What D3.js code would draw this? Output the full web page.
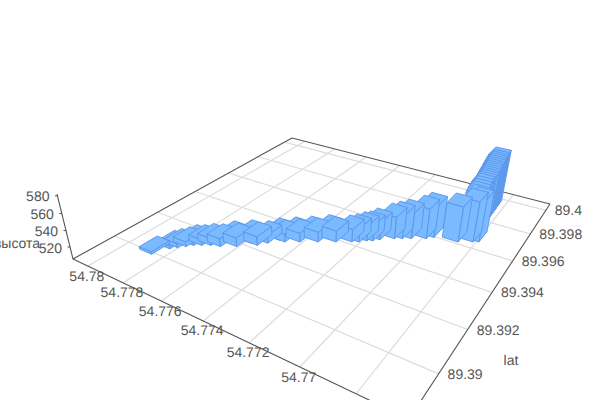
<!DOCTYPE html>
<html><head><meta charset="utf-8">
<script src="https://cdn.jsdelivr.net/npm/d3@7"></script>
<style>html,body{margin:0;padding:0;background:#fff;overflow:hidden}svg{display:block}text{font-family:"Liberation Sans",Arial,sans-serif;font-size:14px;fill:#555;text-rendering:geometricPrecision}</style>
</head><body><svg id="c" width="600" height="400"></svg>
<script>
const lonTicks=[54.78,54.778,54.776,54.774,54.772,54.77,54.768];
const latTicks=[89.4,89.398,89.396,89.394,89.392,89.39];
const zTicks=[520,540,560,580];
const lonTickLabels=["54.78","54.778","54.776","54.774","54.772","54.77"];
const latTickLabels=["89.4","89.398","89.396","89.394","89.392","89.39"];
const zTitle="высота", latTitle="lat";
const lons=[54.7789,54.77858,54.77838,54.77815,54.77795,54.77767,54.77736,54.77697,54.7767,54.77642,54.7761,54.77577,54.77551,54.77525,54.77497,54.7747,54.77445,54.77413,54.77382,54.7735,54.7732,54.77265,54.7724,54.77217,54.77196,54.77176,54.77129,54.77101,54.7707,54.77018,54.76995,54.76897,54.76845,54.76825,54.76845,54.76852,54.76856,54.76858,54.7686,54.7686,54.76858,54.76858,54.76859,54.76859,54.7686,54.7686,54.7686,54.76861,54.76861,54.76862,54.76862,54.76863,54.76863];
const lats=[89.3903,89.39086,89.39105,89.39126,89.39145,89.3916,89.39177,89.39189,89.39225,89.39219,89.39262,89.39263,89.39293,89.39330,89.39331,89.39365,89.39359,89.39396,89.39393,89.39430,89.39426,89.39456,89.39469,89.3949,89.39501,89.3952,89.39554,89.39569,89.39586,89.39614,89.39635,89.39653,89.39681,89.39692,89.39705,89.39725,89.39745,89.39765,89.39785,89.398,89.39816,89.39826,89.39837,89.39847,89.39858,89.39868,89.39878,89.39889,89.39899,89.3991,89.3992,89.39931,89.39945];
const heights=[508,509,510,511,512.5,512.5,514,515,515.5,516,516,516,515,515,515,515.5,516,516.5,517.5,518.5,519,521,522.5,524,525,527.5,532.5,535,537.5,542.5,545,549,555,557,557,557.5,558,558.5,559,559.5,560,561,562,563,564,565,566,567,568,569,570,571,572.5];
const barLon=0.0007, barLat=0.00081;

const uS=d3.scaleLinear().domain([54.7809,54.7663]).range([0,1]);
const vS=d3.scaleLinear().domain([89.3883,89.4006]).range([0,1]);
const zS=d3.scaleLinear().domain([505,582]).range([0,1]);

// floor quad: (u,v) (0,0)=A (1,0)=D (1,1)=C (0,1)=B
const A=[73,259],D=[409,419],C=[550,204],B=[292,138];
const dx1=D[0]-C[0],dx2=B[0]-C[0],sx=A[0]-D[0]+C[0]-B[0];
const dy1=D[1]-C[1],dy2=B[1]-C[1],sy=A[1]-D[1]+C[1]-B[1];
const det=dx1*dy2-dx2*dy1;
const g=(sx*dy2-dx2*sy)/det,h=(dx1*sy-sx*dy1)/det;
const a=D[0]-A[0]+g*D[0],b=B[0]-A[0]+h*B[0],c=A[0];
const d=D[1]-A[1]+g*D[1],e=B[1]-A[1]+h*B[1],f=A[1];
const V=[306,1206],L=-0.0642;
function pr(u,v,z){z=z||0;const w=g*u+h*v+1+z*L;
 return [(a*u+b*v+c+z*L*V[0])/w,(d*u+e*v+f+z*L*V[1])/w];}
const cam=[1.27,-0.73];
const svg=d3.select("#c");
const lineStr=p=>p.map(q=>q[0].toFixed(2)+","+q[1].toFixed(2)).join(" ");

const gGrid=svg.append("g");
lonTicks.forEach(t=>{const p=pr(uS(t),0),q=pr(uS(t),1);
 gGrid.append("line").attr("x1",p[0]).attr("y1",p[1]).attr("x2",q[0]).attr("y2",q[1]).attr("stroke","#dcdcdc").attr("stroke-width",1.2);});
latTicks.forEach(t=>{const p=pr(0,vS(t)),q=pr(1,vS(t));
 gGrid.append("line").attr("x1",p[0]).attr("y1",p[1]).attr("x2",q[0]).attr("y2",q[1]).attr("stroke","#dcdcdc").attr("stroke-width",1.2);});
const gAx=svg.append("g");
[[[0,0],[0,1]],[[0,1],[1,1]],[[1,1],[1,0]],[[1,0],[0,0]]].forEach(s=>{const p=pr(...s[0]),q=pr(...s[1]);
 gAx.append("line").attr("x1",p[0]).attr("y1",p[1]).attr("x2",q[0]).attr("y2",q[1]).attr("stroke","#555").attr("stroke-width",1.1);});
const z0=pr(0,0,0),z1=pr(0,0,1);
gAx.append("line").attr("x1",z0[0]).attr("y1",z0[1]).attr("x2",z1[0]).attr("y2",z1[1]).attr("stroke","#555").attr("stroke-width",1.1);
zTicks.forEach(t=>{const p=pr(0,0,zS(t));
 gAx.append("line").attr("x1",p[0]-2.5).attr("y1",p[1]).attr("x2",p[0]).attr("y2",p[1]).attr("stroke","#555").attr("stroke-width",1);
 gAx.append("text").attr("x",p[0]-8).attr("y",p[1]+5.5).attr("text-anchor","end").text(t);});

// bars, far to near
const bars=lons.map((lon,i)=>({lon,lat:lats[i],z:heights[i]}));
const dist=q=>Math.hypot(uS(q.lon)-cam[0],vS(q.lat)-cam[1]);
bars.sort((p,q)=>dist(q)-dist(p));
const gB=svg.append("g");
const face=pts=>gB.append("polygon").attr("points",lineStr(pts)).attr("fill","#7abaff").attr("stroke","#5b94ea").attr("stroke-width",0.9).attr("stroke-linejoin","round");
bars.forEach(q=>{
 const u0=uS(q.lon+barLon/2),u1=uS(q.lon-barLon/2),v0=vS(q.lat-barLat/2),v1=vS(q.lat+barLat/2),zt=zS(q.z);
 face([pr(u0,v0,0),pr(u1,v0,0),pr(u1,v0,zt),pr(u0,v0,zt)]);
 face([pr(u1,v0,0),pr(u1,v1,0),pr(u1,v1,zt),pr(u1,v0,zt)]);
 face([pr(u0,v0,zt),pr(u1,v0,zt),pr(u1,v1,zt),pr(u0,v1,zt)]);
});
const gT=svg.append("g");
lonTickLabels.forEach(t=>{const p=pr(uS(+t),0);
 gT.append("text").attr("x",p[0]-1).attr("y",p[1]+14.5).attr("text-anchor","middle").text(t);});
latTickLabels.forEach(t=>{const p=pr(1,vS(+t));
 gT.append("text").attr("x",p[0]+9).attr("y",p[1]+5).attr("text-anchor","start").text(t);});
gT.append("text").attr("x",17).attr("y",248).attr("text-anchor","middle").text(zTitle);
gT.append("text").attr("x",511).attr("y",365).attr("text-anchor","middle").text(latTitle);
</script></body></html>
